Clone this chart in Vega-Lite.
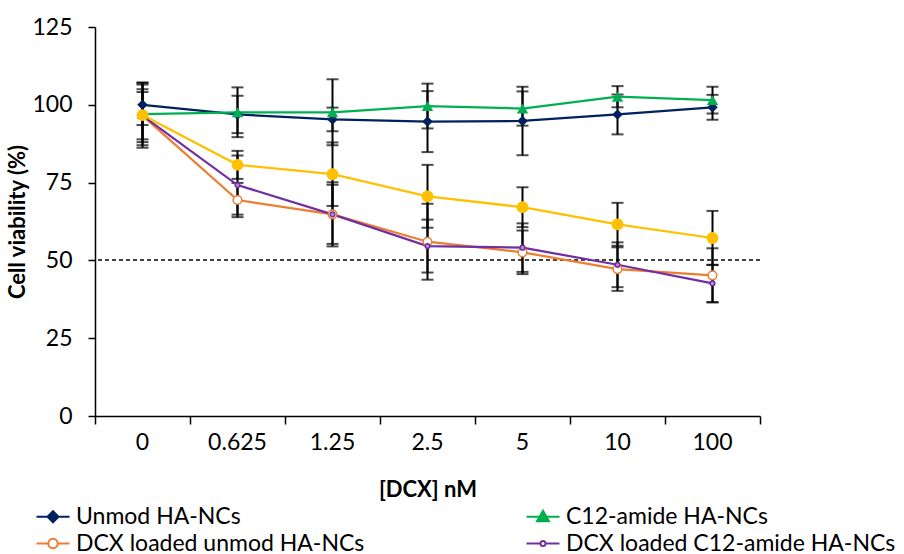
{
  "$schema": "https://vega.github.io/schema/vega-lite/v6.json",
  "width": 665,
  "height": 389,
  "autosize": {"type": "none"},
  "padding": {"left": 95, "top": 27, "right": 144, "bottom": 138},
  "background": "white",
  "config": {
    "view": {"stroke": null},
    "font": "Lato",
    "axis": {
      "labelFont": "Lato", "titleFont": "Lato", "labelColor": "black", "titleColor": "black",
      "domainColor": "black", "tickColor": "black", "grid": false,
      "labelFontSize": 23, "titleFontSize": 22, "titleFontWeight": "bold",
      "domainWidth": 1.5, "tickWidth": 1.5
    }
  },
  "data": {
    "values": [
      {"series": "Unmod HA-NCs", "dose": "0", "v": 100.0, "err": 6.5},
      {"series": "Unmod HA-NCs", "dose": "0.625", "v": 96.9, "err": 6.0},
      {"series": "Unmod HA-NCs", "dose": "1.25", "v": 95.3, "err": 3.8},
      {"series": "Unmod HA-NCs", "dose": "2.5", "v": 94.6, "err": 9.8},
      {"series": "Unmod HA-NCs", "dose": "5", "v": 94.8, "err": 11.0},
      {"series": "Unmod HA-NCs", "dose": "10", "v": 96.9, "err": 6.4},
      {"series": "Unmod HA-NCs", "dose": "100", "v": 99.2, "err": 4.0},
      {"series": "C12-amide HA-NCs", "dose": "0", "v": 97.0, "err": 10.0},
      {"series": "C12-amide HA-NCs", "dose": "0.625", "v": 97.6, "err": 8.0},
      {"series": "C12-amide HA-NCs", "dose": "1.25", "v": 97.6, "err": 10.6},
      {"series": "C12-amide HA-NCs", "dose": "2.5", "v": 99.6, "err": 7.2},
      {"series": "C12-amide HA-NCs", "dose": "5", "v": 98.8, "err": 5.5},
      {"series": "C12-amide HA-NCs", "dose": "10", "v": 102.6, "err": 3.4},
      {"series": "C12-amide HA-NCs", "dose": "100", "v": 101.5, "err": 4.3},
      {"series": "DCX loaded unmod HA-NCs", "dose": "0", "v": 96.5, "err": 8.5},
      {"series": "DCX loaded unmod HA-NCs", "dose": "0.625", "v": 69.4, "err": 5.5},
      {"series": "DCX loaded unmod HA-NCs", "dose": "1.25", "v": 64.8, "err": 10.3},
      {"series": "DCX loaded unmod HA-NCs", "dose": "2.5", "v": 56.0, "err": 12.2},
      {"series": "DCX loaded unmod HA-NCs", "dose": "5", "v": 52.6, "err": 7.0},
      {"series": "DCX loaded unmod HA-NCs", "dose": "10", "v": 47.2, "err": 7.0},
      {"series": "DCX loaded unmod HA-NCs", "dose": "100", "v": 45.2, "err": 8.7},
      {"series": "DCX loaded C12-amide HA-NCs", "dose": "0", "v": 96.5, "err": 7.6},
      {"series": "DCX loaded C12-amide HA-NCs", "dose": "0.625", "v": 74.2, "err": 9.5},
      {"series": "DCX loaded C12-amide HA-NCs", "dose": "1.25", "v": 64.8, "err": 9.5},
      {"series": "DCX loaded C12-amide HA-NCs", "dose": "2.5", "v": 54.6, "err": 8.5},
      {"series": "DCX loaded C12-amide HA-NCs", "dose": "5", "v": 54.1, "err": 7.8},
      {"series": "DCX loaded C12-amide HA-NCs", "dose": "10", "v": 48.6, "err": 7.2},
      {"series": "DCX loaded C12-amide HA-NCs", "dose": "100", "v": 42.6, "err": 6.0},
      {"series": "Free DCX", "dose": "0", "v": 96.7, "err": 10.5},
      {"series": "Free DCX", "dose": "0.625", "v": 80.7, "err": 4.5},
      {"series": "Free DCX", "dose": "1.25", "v": 77.7, "err": 10.2},
      {"series": "Free DCX", "dose": "2.5", "v": 70.6, "err": 10.1},
      {"series": "Free DCX", "dose": "5", "v": 67.1, "err": 6.4},
      {"series": "Free DCX", "dose": "10", "v": 61.6, "err": 6.9},
      {"series": "Free DCX", "dose": "100", "v": 57.2, "err": 8.7}
    ]
  },
  "layer": [
    {
      "mark": {"type": "rule", "color": "#404040", "strokeDash": [4, 3], "strokeWidth": 1.3},
      "encoding": {"y": {"datum": 50, "type": "quantitative"}}
    },
    {
      "encoding": {
        "x": {
          "field": "dose", "type": "nominal",
          "sort": ["0", "0.625", "1.25", "2.5", "5", "10", "100"],
          "scale": {"type": "band", "paddingInner": 0, "paddingOuter": 0},
          "axis": {
            "title": "[DCX] nM", "labelAngle": 0, "bandPosition": 1, "tickExtra": true,
            "tickSize": 8, "labelPadding": 7, "titlePadding": 25
          }
        },
        "y": {
          "field": "v", "type": "quantitative",
          "scale": {"domain": [0, 125], "nice": false},
          "axis": {"title": "Cell viability (%)", "values": [0, 25, 50, 75, 100, 125], "tickSize": 7, "labelPadding": 16, "titlePadding": 2}
        }
      },
      "layer": [
        {
          "mark": {"type": "errorbar", "color": "black", "thickness": 2, "ticks": {"size": 12, "thickness": 2, "color": "black"}},
          "encoding": {"yError": {"field": "err"}, "detail": {"field": "series", "type": "nominal"}}
        },
        {
          "mark": {"type": "line", "strokeWidth": 2.25},
          "encoding": {
            "stroke": {
              "field": "series", "type": "nominal",
              "scale": {
                "domain": ["Unmod HA-NCs", "C12-amide HA-NCs", "DCX loaded unmod HA-NCs", "DCX loaded C12-amide HA-NCs", "Free DCX"],
                "range": ["#002060", "#00B050", "#ED7D31", "#7030A0", "#FFC000"]
              },
              "legend": {
                "title": null, "orient": "none", "legendX": -53.5, "legendY": 478,
                "direction": "horizontal",
                "columns": 2, "columnPadding": 158, "rowPadding": 3, "padding": 0,
                "values": ["Unmod HA-NCs", "C12-amide HA-NCs", "DCX loaded unmod HA-NCs", "DCX loaded C12-amide HA-NCs"],
                "labelFont": "Lato", "labelFontSize": 23, "labelColor": "black", "labelOffset": 11.5,
                "symbolSize": 400, "symbolStrokeWidth": 2, "labelLimit": 500,
                "encode": {
                  "symbols": {
                    "update": {
                      "shape": {"signal": "datum.value === 'Unmod HA-NCs' ? 'M-1.65,0H1.65M0,-0.55L0.55,0L0,0.55L-0.55,0Z' : datum.value === 'C12-amide HA-NCs' ? 'M-1.65,0H1.65M0,-0.6L0.6,0.45L-0.6,0.45Z' : datum.value === 'DCX loaded unmod HA-NCs' ? 'M-1.65,0H-0.47M0.47,0H1.65M0.47,0A0.47,0.47 0 1,1 -0.47,0A0.47,0.47 0 1,1 0.47,0Z' : 'M-1.65,0H-0.25M0.25,0H1.65M0.25,0A0.25,0.25 0 1,1 -0.25,0A0.25,0.25 0 1,1 0.25,0Z'"},
                      "fill": {"signal": "datum.value === 'Unmod HA-NCs' ? '#002060' : datum.value === 'C12-amide HA-NCs' ? '#00B050' : 'white'"},
                      "strokeWidth": {"value": 2},
                      "opacity": {"value": 1}
                    }
                  }
                }
              }
            }
          }
        },
        {
          "transform": [{"filter": {"field": "series", "equal": "Unmod HA-NCs"}}],
          "mark": {"type": "point", "shape": "diamond", "size": 110, "filled": true, "color": "#002060", "opacity": 1}
        },
        {
          "transform": [{"filter": {"field": "series", "equal": "C12-amide HA-NCs"}}],
          "mark": {"type": "point", "shape": "triangle-up", "size": 130, "filled": true, "color": "#00B050", "opacity": 1}
        },
        {
          "transform": [{"filter": {"field": "series", "equal": "DCX loaded unmod HA-NCs"}}],
          "mark": {"type": "point", "shape": "circle", "size": 75, "fill": "white", "stroke": "#ED7D31", "strokeWidth": 1.5, "opacity": 1}
        },
        {
          "transform": [{"filter": {"field": "series", "equal": "DCX loaded C12-amide HA-NCs"}}],
          "mark": {"type": "point", "shape": "circle", "size": 22, "fill": "#B490D0", "stroke": "#7030A0", "strokeWidth": 1.5, "opacity": 1}
        },
        {
          "transform": [{"filter": {"field": "series", "equal": "Free DCX"}}],
          "mark": {"type": "point", "shape": "circle", "size": 140, "filled": true, "color": "#FFC000", "opacity": 1}
        }
      ]
    }
  ]
}
